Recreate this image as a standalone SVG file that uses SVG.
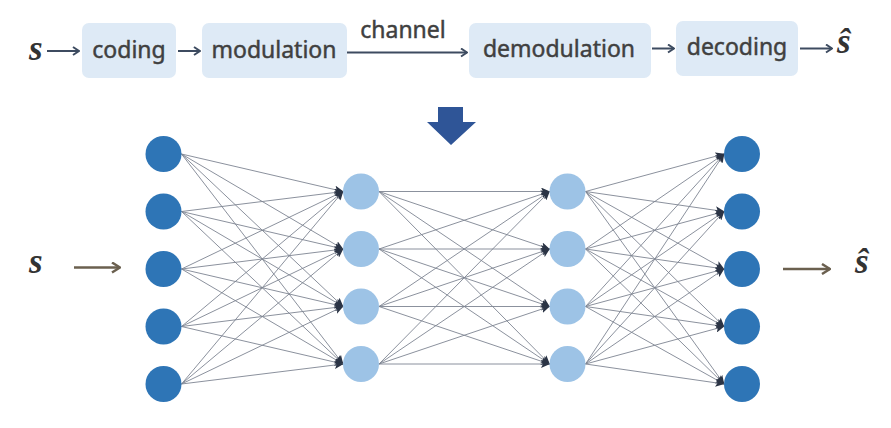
<svg xmlns="http://www.w3.org/2000/svg" width="891" height="428" viewBox="0 0 891 428">
<style>
.box{fill:#deeaf6}
.lbl{font-family:"Noto Sans","Liberation Sans",sans-serif;font-size:23px;fill:#404040;stroke:#404040;stroke-width:0.45;text-anchor:middle}
.sym{font-family:"Liberation Serif",serif;font-style:italic;font-weight:bold;font-size:35px;fill:#333333}
.flow{stroke:#3d4b60;stroke-width:2;fill:none}
.io{stroke:#6b604f;stroke-width:2.5;fill:none}
.nn line{stroke:#7e8492;stroke-width:0.9}
.in{fill:#2e75b6}
.hid{fill:#9dc3e6}
</style>
<defs>
<marker id="chev" markerUnits="userSpaceOnUse" viewBox="0 0 10 10" refX="9" refY="5" markerWidth="10" markerHeight="10" orient="auto">
<path d="M3,1 L9,5 L3,9" fill="none" stroke="#3d4b60" stroke-width="2"/>
</marker>
<marker id="chev2" markerUnits="userSpaceOnUse" viewBox="0 0 12 12" refX="11" refY="6" markerWidth="12" markerHeight="12" orient="auto">
<path d="M3,1 L11,6 L3,11" fill="none" stroke="#6b604f" stroke-width="2.5"/>
</marker>
<marker id="ah" markerUnits="userSpaceOnUse" viewBox="0 0 9 8" refX="8.5" refY="4" markerWidth="9" markerHeight="8" orient="auto">
<path d="M0,0 L9,4 L0,8 L2,4 z" fill="#2b3445"/>
</marker>
</defs>

<g id="top-pipeline">
<text class="sym" x="29" y="60">s</text>
<g id="coding"><rect class="box" x="82" y="23" width="94" height="55" rx="7"/><text class="lbl" x="129" y="58">coding</text></g>
<g id="modulation"><rect class="box" x="202" y="23" width="145" height="55" rx="7"/><text class="lbl" x="274" y="58">modulation</text></g>
<g id="demodulation"><rect class="box" x="469" y="23" width="182" height="55" rx="7"/><text class="lbl" x="559" y="57">demodulation</text></g>
<g id="decoding"><rect class="box" x="676" y="21" width="122" height="55" rx="7"/><text class="lbl" x="737" y="55">decoding</text></g>
<text class="sym" x="837" y="53">ŝ</text>
<text class="lbl" x="403" y="38">channel</text>
</g>

<g id="top-connectors">
<line class="flow" x1="47" y1="51" x2="79" y2="51" marker-end="url(#chev)"/>
<line class="flow" x1="178" y1="51" x2="200" y2="51" marker-end="url(#chev)"/>
<line class="flow" x1="347" y1="52.5" x2="467" y2="52.5" marker-end="url(#chev)"/>
<line class="flow" x1="652" y1="48.5" x2="674" y2="48.5" marker-end="url(#chev)"/>
<line class="flow" x1="800" y1="48.5" x2="832" y2="48.5" marker-end="url(#chev)"/>
</g>

<g id="big-arrow"><polygon points="438,107 463,107 463,122 476,122 451,145 427,122 438,122" fill="#2f5597"/></g>

<g id="connectors" class="nn">
<line x1="181.5" y1="154" x2="343" y2="191.5" marker-end="url(#ah)"/>
<line x1="181.5" y1="154" x2="343" y2="249" marker-end="url(#ah)"/>
<line x1="181.5" y1="154" x2="343" y2="306.5" marker-end="url(#ah)"/>
<line x1="181.5" y1="154" x2="343" y2="364" marker-end="url(#ah)"/>
<line x1="181.5" y1="211.5" x2="343" y2="191.5" marker-end="url(#ah)"/>
<line x1="181.5" y1="211.5" x2="343" y2="249" marker-end="url(#ah)"/>
<line x1="181.5" y1="211.5" x2="343" y2="306.5" marker-end="url(#ah)"/>
<line x1="181.5" y1="211.5" x2="343" y2="364" marker-end="url(#ah)"/>
<line x1="181.5" y1="269" x2="343" y2="191.5" marker-end="url(#ah)"/>
<line x1="181.5" y1="269" x2="343" y2="249" marker-end="url(#ah)"/>
<line x1="181.5" y1="269" x2="343" y2="306.5" marker-end="url(#ah)"/>
<line x1="181.5" y1="269" x2="343" y2="364" marker-end="url(#ah)"/>
<line x1="181.5" y1="326.5" x2="343" y2="191.5" marker-end="url(#ah)"/>
<line x1="181.5" y1="326.5" x2="343" y2="249" marker-end="url(#ah)"/>
<line x1="181.5" y1="326.5" x2="343" y2="306.5" marker-end="url(#ah)"/>
<line x1="181.5" y1="326.5" x2="343" y2="364" marker-end="url(#ah)"/>
<line x1="181.5" y1="384" x2="343" y2="191.5" marker-end="url(#ah)"/>
<line x1="181.5" y1="384" x2="343" y2="249" marker-end="url(#ah)"/>
<line x1="181.5" y1="384" x2="343" y2="306.5" marker-end="url(#ah)"/>
<line x1="181.5" y1="384" x2="343" y2="364" marker-end="url(#ah)"/>

<line x1="379" y1="191.5" x2="549.5" y2="191.5" marker-end="url(#ah)"/>
<line x1="379" y1="191.5" x2="549.5" y2="249" marker-end="url(#ah)"/>
<line x1="379" y1="191.5" x2="549.5" y2="306.5" marker-end="url(#ah)"/>
<line x1="379" y1="191.5" x2="549.5" y2="364" marker-end="url(#ah)"/>
<line x1="379" y1="249" x2="549.5" y2="191.5" marker-end="url(#ah)"/>
<line x1="379" y1="249" x2="549.5" y2="249" marker-end="url(#ah)"/>
<line x1="379" y1="249" x2="549.5" y2="306.5" marker-end="url(#ah)"/>
<line x1="379" y1="249" x2="549.5" y2="364" marker-end="url(#ah)"/>
<line x1="379" y1="306.5" x2="549.5" y2="191.5" marker-end="url(#ah)"/>
<line x1="379" y1="306.5" x2="549.5" y2="249" marker-end="url(#ah)"/>
<line x1="379" y1="306.5" x2="549.5" y2="306.5" marker-end="url(#ah)"/>
<line x1="379" y1="306.5" x2="549.5" y2="364" marker-end="url(#ah)"/>
<line x1="379" y1="364" x2="549.5" y2="191.5" marker-end="url(#ah)"/>
<line x1="379" y1="364" x2="549.5" y2="249" marker-end="url(#ah)"/>
<line x1="379" y1="364" x2="549.5" y2="306.5" marker-end="url(#ah)"/>
<line x1="379" y1="364" x2="549.5" y2="364" marker-end="url(#ah)"/>

<line x1="585.5" y1="191.5" x2="724" y2="154" marker-end="url(#ah)"/>
<line x1="585.5" y1="191.5" x2="724" y2="211.5" marker-end="url(#ah)"/>
<line x1="585.5" y1="191.5" x2="724" y2="269" marker-end="url(#ah)"/>
<line x1="585.5" y1="191.5" x2="724" y2="326.5" marker-end="url(#ah)"/>
<line x1="585.5" y1="191.5" x2="724" y2="384" marker-end="url(#ah)"/>
<line x1="585.5" y1="249" x2="724" y2="154" marker-end="url(#ah)"/>
<line x1="585.5" y1="249" x2="724" y2="211.5" marker-end="url(#ah)"/>
<line x1="585.5" y1="249" x2="724" y2="269" marker-end="url(#ah)"/>
<line x1="585.5" y1="249" x2="724" y2="326.5" marker-end="url(#ah)"/>
<line x1="585.5" y1="249" x2="724" y2="384" marker-end="url(#ah)"/>
<line x1="585.5" y1="306.5" x2="724" y2="154" marker-end="url(#ah)"/>
<line x1="585.5" y1="306.5" x2="724" y2="211.5" marker-end="url(#ah)"/>
<line x1="585.5" y1="306.5" x2="724" y2="269" marker-end="url(#ah)"/>
<line x1="585.5" y1="306.5" x2="724" y2="326.5" marker-end="url(#ah)"/>
<line x1="585.5" y1="306.5" x2="724" y2="384" marker-end="url(#ah)"/>
<line x1="585.5" y1="364" x2="724" y2="154" marker-end="url(#ah)"/>
<line x1="585.5" y1="364" x2="724" y2="211.5" marker-end="url(#ah)"/>
<line x1="585.5" y1="364" x2="724" y2="269" marker-end="url(#ah)"/>
<line x1="585.5" y1="364" x2="724" y2="326.5" marker-end="url(#ah)"/>
<line x1="585.5" y1="364" x2="724" y2="384" marker-end="url(#ah)"/>
</g>

<g id="input-layer">
<circle id="in1" class="in" cx="163.5" cy="154" r="18"/>
<circle id="in2" class="in" cx="163.5" cy="211.5" r="18"/>
<circle id="in3" class="in" cx="163.5" cy="269" r="18"/>
<circle id="in4" class="in" cx="163.5" cy="326.5" r="18"/>
<circle id="in5" class="in" cx="163.5" cy="384" r="18"/>
</g>
<g id="hidden-layer-1">
<circle id="h1a" class="hid" cx="361" cy="191.5" r="18"/>
<circle id="h1b" class="hid" cx="361" cy="249" r="18"/>
<circle id="h1c" class="hid" cx="361" cy="306.5" r="18"/>
<circle id="h1d" class="hid" cx="361" cy="364" r="18"/>
</g>
<g id="hidden-layer-2">
<circle id="h2a" class="hid" cx="567.5" cy="191.5" r="18"/>
<circle id="h2b" class="hid" cx="567.5" cy="249" r="18"/>
<circle id="h2c" class="hid" cx="567.5" cy="306.5" r="18"/>
<circle id="h2d" class="hid" cx="567.5" cy="364" r="18"/>
</g>
<g id="output-layer">
<circle id="out1" class="in" cx="742" cy="154" r="18"/>
<circle id="out2" class="in" cx="742" cy="211.5" r="18"/>
<circle id="out3" class="in" cx="742" cy="269" r="18"/>
<circle id="out4" class="in" cx="742" cy="326.5" r="18"/>
<circle id="out5" class="in" cx="742" cy="384" r="18"/>
</g>

<g id="io">
<text class="sym" x="29" y="273">s</text>
<line class="io" x1="74" y1="267.5" x2="120" y2="267.5" marker-end="url(#chev2)"/>
<line class="io" x1="783" y1="269" x2="830" y2="269" marker-end="url(#chev2)"/>
<text class="sym" x="855" y="273">ŝ</text>
</g>
</svg>
